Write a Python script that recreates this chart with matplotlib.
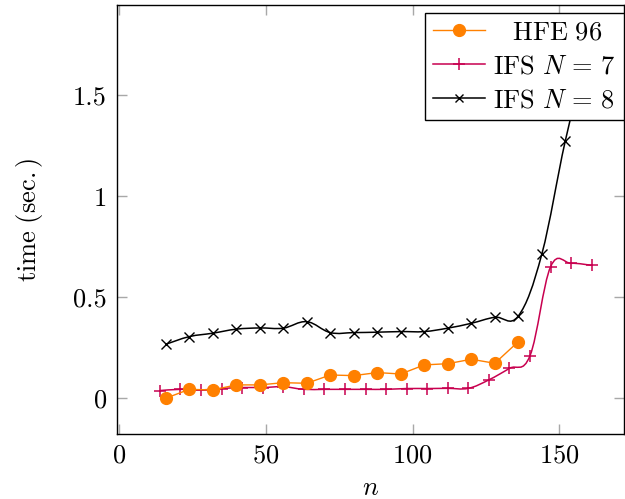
import numpy as np
import matplotlib
matplotlib.use("Agg")
import matplotlib.pyplot as plt
from matplotlib.path import Path
from matplotlib.patches import PathPatch
from matplotlib.lines import Line2D

plt.rcParams['font.family'] = 'serif'
plt.rcParams['font.serif'] = ['cmr10', 'DejaVu Serif']
plt.rcParams['mathtext.fontset'] = 'cm'
plt.rcParams['axes.formatter.use_mathtext'] = True

# data
hfe_n = [16, 24, 32, 40, 48, 56, 64, 72, 80, 88, 96, 104, 112, 120, 128, 136]
hfe_t = [0.001, 0.045, 0.042, 0.067, 0.067, 0.078, 0.075, 0.116, 0.113, 0.128,
         0.121, 0.166, 0.172, 0.194, 0.174, 0.281]

ifs7_n = [14, 21, 28, 35, 42, 49, 56, 63, 70, 77, 84, 91, 98, 105, 112, 119,
          126, 133, 140, 147, 154, 161]
ifs7_t = [0.039, 0.045, 0.042, 0.049, 0.054, 0.054, 0.058, 0.045, 0.045, 0.045,
          0.045, 0.045, 0.049, 0.049, 0.050, 0.050, 0.092, 0.149, 0.212, 0.652,
          0.669, 0.659]

ifs8_n = [16, 24, 32, 40, 48, 56, 64, 72, 80, 88, 96, 104, 112, 120, 128, 136,
          144, 152, 160]
ifs8_t = [0.268, 0.306, 0.323, 0.343, 0.349, 0.348, 0.380, 0.326, 0.326, 0.328,
          0.331, 0.331, 0.348, 0.372, 0.402, 0.408, 0.714, 1.275, 1.75]

x_ticks = [0, 50, 100, 150]
y_ticks = [0, 0.5, 1, 1.5]
y_tick_labels = ['0', '0.5', '1', '1.5']

orange = '#ff8000'
crimson = '#c8004f'
fs = 19


def smooth_path(xs, ys, tension=0.55):
    # cardinal spline like tikz "smooth"
    pts = np.column_stack([xs, ys]).astype(float)
    k = tension / 3.0
    verts = [pts[0]]
    codes = [Path.MOVETO]
    n = len(pts)
    for i in range(n - 1):
        p_prev = pts[i - 1] if i > 0 else pts[i]
        p_next2 = pts[i + 2] if i + 2 < n else pts[i + 1]
        c1 = pts[i] + k * (pts[i + 1] - p_prev)
        c2 = pts[i + 1] - k * (p_next2 - pts[i])
        verts += [c1, c2, pts[i + 1]]
        codes += [Path.CURVE4] * 3
    return Path(verts, codes)


fig = plt.figure(figsize=(6.25, 4.99), dpi=100)
ax = fig.add_axes([0.1867, 0.1303, 0.8113, 0.8597])

# HFE 96, straight segments
ax.plot(hfe_n, hfe_t, color=orange, lw=1.0, marker='o', markersize=8.5,
        markeredgecolor=orange, zorder=3)

# IFS N=7, smooth
ax.add_patch(PathPatch(smooth_path(ifs7_n, ifs7_t), facecolor='none',
                       edgecolor=crimson, lw=1.1, zorder=2))
ax.plot(ifs7_n, ifs7_t, ls='none', marker='+', markersize=8, mew=1.1,
        color=crimson, zorder=2)

# IFS N=8, smooth
ax.add_patch(PathPatch(smooth_path(ifs8_n, ifs8_t), facecolor='none',
                       edgecolor='black', lw=1.1, zorder=2))
ax.plot(ifs8_n, ifs8_t, ls='none', marker='x', markersize=6.5, mew=1.0,
        color='black', zorder=2)

ax.set_xlim(-0.7, 171.9)
ax.set_ylim(-0.176, 1.948)
ax.set_xticks(x_ticks)
ax.set_yticks(y_ticks)
ax.set_yticklabels(y_tick_labels)
ax.tick_params(direction='in', length=7, width=1, color='#a8a8a8',
               top=True, right=True, labelsize=fs, pad=7)
for s in ax.spines.values():
    s.set_linewidth(1.0)

ax.set_xlabel(r'$n$', fontsize=fs, labelpad=6)
ax.set_ylabel(r'$\mathrm{time\ (sec.)}$', fontsize=fs, labelpad=20)

handles = [
    Line2D([], [], color=orange, lw=1.0, marker='o', markersize=8.5),
    Line2D([], [], color=crimson, lw=1.1, marker='+', markersize=8, mew=1.1),
    Line2D([], [], color='black', lw=1.1, marker='x', markersize=6, mew=1.0),
]
labels = [r'$\;\;\;\mathrm{HFE\ 96}$', r'$\mathrm{IFS}\ N\,=\,7$',
          r'$\mathrm{IFS}\ N\,=\,8$']
leg = ax.legend(handles, labels, loc='upper right', bbox_to_anchor=(1.0, 1 - 8 / 429),
                borderaxespad=0, fontsize=fs, fancybox=False, framealpha=1,
                edgecolor='black', handlelength=2.0, handletextpad=0.3,
                labelspacing=0.38, borderpad=0.3)
leg.get_frame().set_linewidth(1.0)
leg.set_zorder(5)

fig.savefig('out.png', dpi=100)
